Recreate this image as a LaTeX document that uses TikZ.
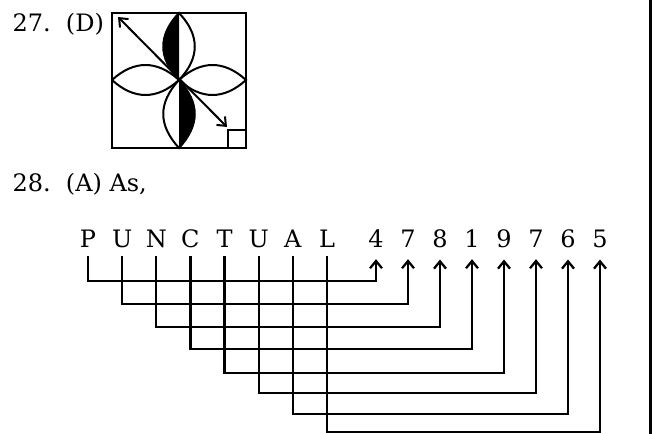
\documentclass[tikz,border=0pt]{standalone}
\usepackage{fontspec}
\setmainfont{DejaVu Serif}
\usetikzlibrary{arrows.meta}

\tikzset{every picture/.style={line width=0.75pt}}
\tikzset{
  qtext/.style={anchor=base west,inner sep=0pt,font=\fontsize{18}{22}\selectfont},
  letter/.style={anchor=base,inner sep=0pt,font=\fontsize{18}{22}\selectfont},
  conn/.style={line width=1.7pt,shorten <=5.5pt,shorten >=8pt,-{Straight Barb[length=5.5pt,width=9pt]}},
  petal/.style={line width=1.5pt},
}

\begin{document}
\begin{tikzpicture}[x=0.75pt,y=0.75pt,yscale=-1,xscale=1]
\useasboundingbox (0,0) rectangle (653,434);

%Straight Lines [right rule]
\draw [line width=1.7pt] (650.5,0) -- (650.5,434);

% Text Node
\draw (12,32) node [qtext] {27.\ \ (D)};

%Shape: Rectangle [frame]
\draw [line width=2pt] (112,13) rectangle (246,148);
%Shape: Rectangle [corner square]
\draw [petal] (228,130) rectangle (246,148);

%Shape: top petal, left half black
\fill (179,80) .. controls (158,58) and (158,35) .. (179,13) -- cycle;
\draw [petal] (179,80) .. controls (158,58) and (158,35) .. (179,13) .. controls (200,35) and (200,58) .. (179,80);
%Shape: bottom petal, right half black
\fill (179,80) .. controls (200,103) and (200,125) .. (179,148) -- cycle;
\draw [petal] (179,80) .. controls (200,103) and (200,125) .. (179,148) .. controls (158,125) and (158,103) .. (179,80);
%Shape: left petal
\draw [petal] (112,80) .. controls (134,60) and (157,60) .. (179,80) .. controls (157,100) and (134,100) .. (112,80);
%Shape: right petal
\draw [petal] (179,80) .. controls (201,60) and (224,60) .. (246,80) .. controls (224,100) and (201,100) .. (179,80);

%Straight Lines [diagonal arrow]
\draw [petal,{Straight Barb[length=5.5pt,width=9pt]}-{Straight Barb[length=5.5pt,width=9pt]}] (118,17) -- (227,127);

% Text Node
\draw (12,192) node [qtext] {28.\ \ (A) As,};

% letters of the word
\foreach \ch [count=\i] in {P,U,N,C,T,U,A,L}
  \node [letter] (w\i) at ({88+34.14*(\i-1)},248) {\ch};
% code digits
\foreach \d [count=\i] in {4,7,8,1,9,7,6,5}
  \node [letter] (c\i) at ({376+32*(\i-1)},248) {\d};

% connectors
\foreach \i/\y in {1/281,2/304,3/327,4/349,5/373,6/393,7/414,8/432}
  \draw [conn] (w\i.south) |- (c\i.south |- 0,\y) -- (c\i.south);

\end{tikzpicture}
\end{document}
